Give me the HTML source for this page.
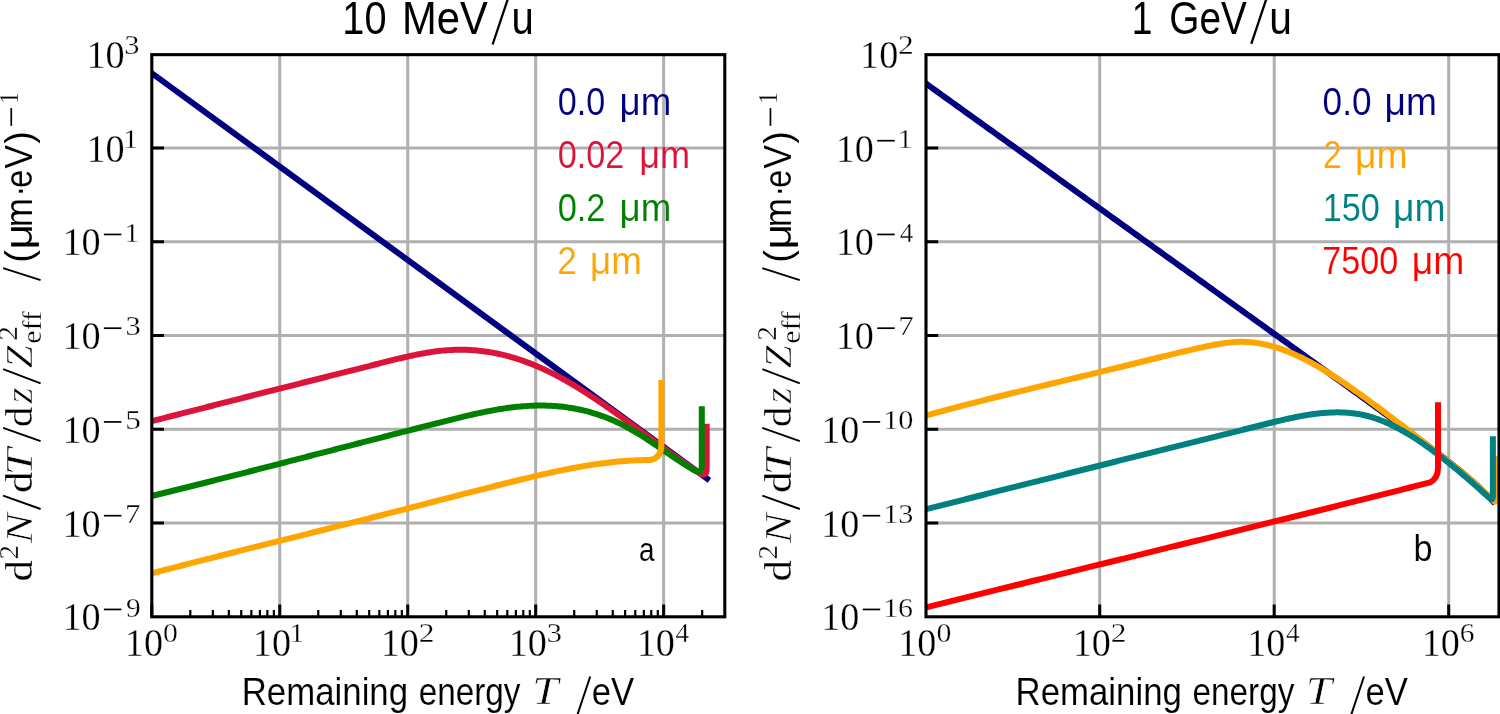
<!DOCTYPE html>
<html><head><meta charset="utf-8"><style>
html,body{margin:0;padding:0;background:#fff;width:1500px;height:714px;overflow:hidden}
svg{display:block;will-change:transform}
.sf{font-family:"Liberation Serif",serif;fill:#000;stroke:#fff;stroke-width:0.3px}
.si{font-family:"Liberation Serif",serif;font-style:italic;fill:#000;stroke:#fff;stroke-width:0.6px}
.ss{font-family:"Liberation Sans",sans-serif;fill:#000;stroke:#fff;stroke-width:0.1px}
.st{font-family:"Liberation Sans",sans-serif;fill:#000}
</style></head><body>
<svg width="1500" height="714" viewBox="0 0 1500 714">
<defs>
<clipPath id="cl"><rect x="151.8" y="54.65" width="573.00" height="562.15"/></clipPath>
<clipPath id="cr"><rect x="926.0" y="54.65" width="573.00" height="562.15"/></clipPath>
</defs>
<path d="M279.75,54.65 V616.8 M407.72,54.65 V616.8 M535.69,54.65 V616.8 M663.66,54.65 V616.8 M151.8,148.00 H724.8 M151.8,241.75 H724.8 M151.8,335.50 H724.8 M151.8,429.25 H724.8 M151.8,523.00 H724.8 M1099.70,54.65 V616.8 M1274.20,54.65 V616.8 M1448.70,54.65 V616.8 M926.0,148.00 H1499.0 M926.0,241.75 H1499.0 M926.0,335.50 H1499.0 M926.0,429.25 H1499.0 M926.0,523.00 H1499.0" stroke="#b0b0b0" stroke-width="3.0" fill="none"/>
<path d="M151.78,616.8 V604.5999999999999 M279.75,616.8 V604.5999999999999 M407.72,616.8 V604.5999999999999 M535.69,616.8 V604.5999999999999 M663.66,616.8 V604.5999999999999 M151.8,148.00 H164.0 M926.0,148.00 H938.2 M151.8,241.75 H164.0 M926.0,241.75 H938.2 M151.8,335.50 H164.0 M926.0,335.50 H938.2 M151.8,429.25 H164.0 M926.0,429.25 H938.2 M151.8,523.00 H164.0 M926.0,523.00 H938.2 M1099.70,616.8 V604.5999999999999 M1274.20,616.8 V604.5999999999999 M1448.70,616.8 V604.5999999999999" stroke="#000" stroke-width="3.0" fill="none"/>
<path d="M190.30,616.8 V610.0 M212.84,616.8 V610.0 M228.83,616.8 V610.0 M241.23,616.8 V610.0 M251.36,616.8 V610.0 M259.93,616.8 V610.0 M267.35,616.8 V610.0 M273.89,616.8 V610.0 M318.27,616.8 V610.0 M340.81,616.8 V610.0 M356.80,616.8 V610.0 M369.20,616.8 V610.0 M379.33,616.8 V610.0 M387.90,616.8 V610.0 M395.32,616.8 V610.0 M401.86,616.8 V610.0 M446.24,616.8 V610.0 M468.78,616.8 V610.0 M484.77,616.8 V610.0 M497.17,616.8 V610.0 M507.30,616.8 V610.0 M515.87,616.8 V610.0 M523.29,616.8 V610.0 M529.83,616.8 V610.0 M574.21,616.8 V610.0 M596.75,616.8 V610.0 M612.74,616.8 V610.0 M625.14,616.8 V610.0 M635.27,616.8 V610.0 M643.84,616.8 V610.0 M651.26,616.8 V610.0 M657.80,616.8 V610.0 M702.18,616.8 V610.0" stroke="#000" stroke-width="2.2" fill="none"/>
<g clip-path="url(#cl)">
<path d="M148.8,71.01 L709.5,480.32" fill="none" stroke="#000080" stroke-width="6.0" stroke-linejoin="round" stroke-linecap="butt"/>
<path d="M148.80,421.84 L150.81,421.33 L152.83,420.83 L154.84,420.32 L156.85,419.82 L158.86,419.31 L160.88,418.80 L162.89,418.30 L164.90,417.79 L166.92,417.28 L168.93,416.77 L170.94,416.26 L172.95,415.75 L174.97,415.24 L176.98,414.73 L178.99,414.22 L181.01,413.71 L183.02,413.19 L185.03,412.68 L187.04,412.17 L189.06,411.66 L191.07,411.14 L193.08,410.63 L195.09,410.12 L197.11,409.60 L199.12,409.09 L201.13,408.57 L203.15,408.06 L205.16,407.54 L207.17,407.03 L209.18,406.51 L211.20,406.00 L213.21,405.49 L215.22,404.97 L217.24,404.46 L219.25,403.94 L221.26,403.43 L223.27,402.91 L225.29,402.40 L227.30,401.88 L229.31,401.37 L231.33,400.85 L233.34,400.34 L235.35,399.83 L237.36,399.31 L239.38,398.80 L241.39,398.28 L243.40,397.77 L245.42,397.26 L247.43,396.75 L249.44,396.23 L251.45,395.72 L253.47,395.21 L255.48,394.70 L257.49,394.19 L259.51,393.68 L261.52,393.17 L263.53,392.66 L265.54,392.15 L267.56,391.64 L269.57,391.13 L271.58,390.63 L273.59,390.12 L275.61,389.61 L277.62,389.10 L279.63,388.60 L281.65,388.09 L283.66,387.58 L285.67,387.08 L287.68,386.57 L289.70,386.06 L291.71,385.56 L293.72,385.05 L295.74,384.55 L297.75,384.04 L299.76,383.54 L301.77,383.03 L303.79,382.53 L305.80,382.02 L307.81,381.52 L309.83,381.01 L311.84,380.51 L313.85,380.00 L315.86,379.50 L317.88,378.99 L319.89,378.49 L321.90,377.98 L323.92,377.47 L325.93,376.97 L327.94,376.46 L329.95,375.96 L331.97,375.45 L333.98,374.95 L335.99,374.44 L338.01,373.93 L340.02,373.43 L342.03,372.92 L344.04,372.41 L346.06,371.90 L348.07,371.40 L350.08,370.89 L352.09,370.38 L354.11,369.87 L356.12,369.36 L358.13,368.85 L360.15,368.34 L362.16,367.83 L364.17,367.32 L366.18,366.81 L368.20,366.30 L370.21,365.79 L372.22,365.28 L374.24,364.76 L376.25,364.25 L378.26,363.74 L380.27,363.22 L382.29,362.71 L384.30,362.20 L386.31,361.69 L388.33,361.18 L390.34,360.67 L392.35,360.17 L394.36,359.68 L396.38,359.18 L398.39,358.70 L400.40,358.22 L402.42,357.74 L404.43,357.28 L406.44,356.82 L408.45,356.37 L410.47,355.93 L412.48,355.50 L414.49,355.08 L416.51,354.67 L418.52,354.27 L420.53,353.88 L422.54,353.51 L424.56,353.15 L426.57,352.81 L428.58,352.48 L430.59,352.16 L432.61,351.86 L434.62,351.58 L436.63,351.32 L438.65,351.07 L440.66,350.84 L442.67,350.63 L444.68,350.44 L446.70,350.27 L448.71,350.12 L450.72,349.99 L452.74,349.89 L454.75,349.81 L456.76,349.75 L458.77,349.71 L460.79,349.70 L462.80,349.71 L464.81,349.75 L466.83,349.81 L468.84,349.90 L470.85,350.00 L472.86,350.14 L474.88,350.29 L476.89,350.47 L478.90,350.67 L480.92,350.90 L482.93,351.15 L484.94,351.42 L486.95,351.71 L488.97,352.03 L490.98,352.37 L492.99,352.74 L495.01,353.12 L497.02,353.53 L499.03,353.96 L501.04,354.42 L503.06,354.90 L505.07,355.39 L507.08,355.92 L509.09,356.46 L511.11,357.03 L513.12,357.61 L515.13,358.22 L517.15,358.86 L519.16,359.51 L521.17,360.19 L523.18,360.88 L525.20,361.60 L527.21,362.34 L529.22,363.10 L531.24,363.89 L533.25,364.69 L535.26,365.52 L537.27,366.36 L539.29,367.23 L541.30,368.12 L543.31,369.03 L545.33,369.96 L547.34,370.91 L549.35,371.89 L551.36,372.88 L553.38,373.89 L555.39,374.92 L557.40,375.98 L559.42,377.05 L561.43,378.14 L563.44,379.25 L565.45,380.37 L567.47,381.52 L569.48,382.68 L571.49,383.86 L573.51,385.05 L575.52,386.26 L577.53,387.48 L579.54,388.72 L581.56,389.98 L583.57,391.24 L585.58,392.52 L587.59,393.82 L589.61,395.12 L591.62,396.44 L593.63,397.77 L595.65,399.11 L597.66,400.46 L599.67,401.83 L601.68,403.20 L603.70,404.58 L605.71,405.97 L607.72,407.37 L609.74,408.78 L611.75,410.20 L613.76,411.62 L615.77,413.05 L617.79,414.49 L619.80,415.93 L621.81,417.38 L623.83,418.83 L625.84,420.29 L627.85,421.75 L629.86,423.22 L631.88,424.69 L633.89,426.16 L635.90,427.64 L637.92,429.12 L639.93,430.60 L641.94,432.08 L643.95,433.56 L645.97,435.04 L647.98,436.52 L649.99,438.01 L652.01,439.49 L654.02,440.97 L656.03,442.44 L658.04,443.92 L660.06,445.39 L662.07,446.86 L664.08,448.33 L666.09,449.79 L668.11,451.25 L670.12,452.70 L672.13,454.15 L674.15,455.59 L676.16,457.03 L678.17,458.46 L680.18,459.88 L682.20,461.30 L684.21,462.70 L686.22,464.10 L688.24,465.49 L690.25,466.87 L692.26,468.25 L694.27,469.61 L696.29,470.96 L698.30,472.30 Q705.50,477.80 706.70,470.50 L706.70,423.70" fill="none" stroke="#DC143C" stroke-width="6.0" stroke-linejoin="round" stroke-linecap="butt"/>
<path d="M148.80,496.71 L150.81,496.21 L152.82,495.72 L154.84,495.23 L156.85,494.74 L158.86,494.24 L160.87,493.75 L162.88,493.26 L164.89,492.76 L166.91,492.27 L168.92,491.77 L170.93,491.27 L172.94,490.77 L174.95,490.28 L176.97,489.78 L178.98,489.28 L180.99,488.78 L183.00,488.28 L185.01,487.78 L187.02,487.28 L189.04,486.77 L191.05,486.27 L193.06,485.77 L195.07,485.27 L197.08,484.76 L199.10,484.26 L201.11,483.75 L203.12,483.25 L205.13,482.74 L207.14,482.24 L209.15,481.73 L211.17,481.22 L213.18,480.72 L215.19,480.21 L217.20,479.70 L219.21,479.19 L221.23,478.68 L223.24,478.17 L225.25,477.66 L227.26,477.15 L229.27,476.64 L231.28,476.13 L233.30,475.62 L235.31,475.11 L237.32,474.60 L239.33,474.08 L241.34,473.57 L243.35,473.06 L245.37,472.55 L247.38,472.03 L249.39,471.52 L251.40,471.00 L253.41,470.49 L255.43,469.97 L257.44,469.46 L259.45,468.94 L261.46,468.43 L263.47,467.91 L265.48,467.40 L267.50,466.88 L269.51,466.36 L271.52,465.85 L273.53,465.33 L275.54,464.81 L277.56,464.30 L279.57,463.78 L281.58,463.26 L283.59,462.74 L285.60,462.23 L287.61,461.71 L289.63,461.19 L291.64,460.67 L293.65,460.15 L295.66,459.63 L297.67,459.11 L299.69,458.59 L301.70,458.07 L303.71,457.56 L305.72,457.04 L307.73,456.52 L309.74,456.00 L311.76,455.48 L313.77,454.96 L315.78,454.44 L317.79,453.92 L319.80,453.40 L321.82,452.88 L323.83,452.36 L325.84,451.84 L327.85,451.32 L329.86,450.80 L331.87,450.28 L333.89,449.76 L335.90,449.24 L337.91,448.71 L339.92,448.19 L341.93,447.67 L343.95,447.15 L345.96,446.63 L347.97,446.11 L349.98,445.59 L351.99,445.07 L354.00,444.55 L356.02,444.03 L358.03,443.51 L360.04,442.99 L362.05,442.47 L364.06,441.95 L366.08,441.44 L368.09,440.92 L370.10,440.40 L372.11,439.88 L374.12,439.36 L376.13,438.84 L378.15,438.32 L380.16,437.80 L382.17,437.28 L384.18,436.76 L386.19,436.25 L388.21,435.73 L390.22,435.21 L392.23,434.69 L394.24,434.18 L396.25,433.66 L398.26,433.14 L400.28,432.62 L402.29,432.11 L404.30,431.59 L406.31,431.08 L408.32,430.56 L410.34,430.04 L412.35,429.53 L414.36,429.01 L416.37,428.50 L418.38,427.98 L420.39,427.47 L422.41,426.96 L424.42,426.44 L426.43,425.93 L428.44,425.42 L430.45,424.90 L432.46,424.39 L434.48,423.88 L436.49,423.37 L438.50,422.86 L440.51,422.35 L442.52,421.83 L444.54,421.33 L446.55,420.82 L448.56,420.31 L450.57,419.81 L452.58,419.30 L454.59,418.80 L456.61,418.31 L458.62,417.81 L460.63,417.33 L462.64,416.84 L464.65,416.36 L466.67,415.89 L468.68,415.42 L470.69,414.96 L472.70,414.50 L474.71,414.05 L476.72,413.61 L478.74,413.17 L480.75,412.74 L482.76,412.32 L484.77,411.91 L486.78,411.51 L488.80,411.12 L490.81,410.74 L492.82,410.37 L494.83,410.01 L496.84,409.65 L498.85,409.32 L500.87,408.99 L502.88,408.67 L504.89,408.37 L506.90,408.08 L508.91,407.81 L510.93,407.55 L512.94,407.30 L514.95,407.06 L516.96,406.85 L518.97,406.64 L520.98,406.46 L523.00,406.28 L525.01,406.13 L527.02,405.99 L529.03,405.87 L531.04,405.77 L533.06,405.68 L535.07,405.62 L537.08,405.57 L539.09,405.54 L541.10,405.53 L543.11,405.54 L545.13,405.58 L547.14,405.63 L549.15,405.70 L551.16,405.80 L553.17,405.91 L555.19,406.05 L557.20,406.21 L559.21,406.40 L561.22,406.60 L563.23,406.83 L565.24,407.08 L567.26,407.36 L569.27,407.66 L571.28,407.98 L573.29,408.32 L575.30,408.69 L577.32,409.09 L579.33,409.51 L581.34,409.95 L583.35,410.42 L585.36,410.91 L587.37,411.43 L589.39,411.98 L591.40,412.55 L593.41,413.14 L595.42,413.77 L597.43,414.42 L599.45,415.10 L601.46,415.80 L603.47,416.53 L605.48,417.29 L607.49,418.08 L609.50,418.89 L611.52,419.74 L613.53,420.61 L615.54,421.51 L617.55,422.44 L619.56,423.40 L621.57,424.39 L623.59,425.41 L625.60,426.46 L627.61,427.53 L629.62,428.64 L631.63,429.77 L633.65,430.92 L635.66,432.11 L637.67,433.31 L639.68,434.54 L641.69,435.79 L643.70,437.05 L645.72,438.34 L647.73,439.64 L649.74,440.96 L651.75,442.29 L653.76,443.63 L655.78,444.98 L657.79,446.34 L659.80,447.71 L661.81,449.08 L663.82,450.45 L665.83,451.83 L667.85,453.20 L669.86,454.58 L671.87,455.94 L673.88,457.30 L675.89,458.66 L677.91,460.00 L679.92,461.33 L681.93,462.64 L683.94,463.94 L685.95,465.22 L687.96,466.48 L689.98,467.73 L691.99,468.94 L694.00,470.13 Q701.20,474.80 701.80,466.50 L701.80,406.20" fill="none" stroke="#008000" stroke-width="6.0" stroke-linejoin="round" stroke-linecap="butt"/>
<path d="M148.80,574.09 L150.81,573.57 L152.83,573.04 L154.84,572.52 L156.85,572.00 L158.86,571.48 L160.88,570.96 L162.89,570.43 L164.90,569.91 L166.92,569.39 L168.93,568.87 L170.94,568.36 L172.95,567.84 L174.97,567.32 L176.98,566.80 L178.99,566.29 L181.01,565.77 L183.02,565.25 L185.03,564.74 L187.04,564.22 L189.06,563.71 L191.07,563.19 L193.08,562.68 L195.10,562.17 L197.11,561.65 L199.12,561.14 L201.13,560.63 L203.15,560.12 L205.16,559.60 L207.17,559.09 L209.19,558.58 L211.20,558.07 L213.21,557.56 L215.22,557.05 L217.24,556.54 L219.25,556.03 L221.26,555.52 L223.28,555.02 L225.29,554.51 L227.30,554.00 L229.31,553.49 L231.33,552.98 L233.34,552.48 L235.35,551.97 L237.37,551.46 L239.38,550.95 L241.39,550.45 L243.40,549.94 L245.42,549.44 L247.43,548.93 L249.44,548.42 L251.46,547.92 L253.47,547.41 L255.48,546.91 L257.49,546.40 L259.51,545.90 L261.52,545.39 L263.53,544.89 L265.55,544.38 L267.56,543.88 L269.57,543.37 L271.58,542.87 L273.60,542.36 L275.61,541.86 L277.62,541.35 L279.64,540.85 L281.65,540.35 L283.66,539.84 L285.67,539.34 L287.69,538.83 L289.70,538.33 L291.71,537.82 L293.73,537.32 L295.74,536.82 L297.75,536.31 L299.76,535.81 L301.78,535.30 L303.79,534.80 L305.80,534.29 L307.82,533.79 L309.83,533.28 L311.84,532.78 L313.85,532.27 L315.87,531.77 L317.88,531.26 L319.89,530.76 L321.91,530.25 L323.92,529.74 L325.93,529.24 L327.94,528.73 L329.96,528.23 L331.97,527.72 L333.98,527.21 L336.00,526.71 L338.01,526.20 L340.02,525.69 L342.03,525.18 L344.05,524.67 L346.06,524.17 L348.07,523.66 L350.09,523.15 L352.10,522.64 L354.11,522.13 L356.12,521.62 L358.14,521.11 L360.15,520.60 L362.16,520.09 L364.18,519.58 L366.19,519.07 L368.20,518.56 L370.21,518.05 L372.23,517.53 L374.24,517.02 L376.25,516.51 L378.27,515.99 L380.28,515.48 L382.29,514.97 L384.30,514.45 L386.32,513.94 L388.33,513.42 L390.34,512.90 L392.36,512.39 L394.37,511.87 L396.38,511.35 L398.39,510.84 L400.41,510.32 L402.42,509.80 L404.43,509.28 L406.44,508.76 L408.46,508.24 L410.47,507.72 L412.48,507.20 L414.50,506.68 L416.51,506.16 L418.52,505.64 L420.53,505.12 L422.55,504.60 L424.56,504.08 L426.57,503.56 L428.59,503.04 L430.60,502.52 L432.61,502.00 L434.62,501.48 L436.64,500.96 L438.65,500.44 L440.66,499.92 L442.68,499.40 L444.69,498.88 L446.70,498.37 L448.71,497.85 L450.73,497.33 L452.74,496.81 L454.75,496.29 L456.77,495.77 L458.78,495.26 L460.79,494.74 L462.80,494.22 L464.82,493.71 L466.83,493.19 L468.84,492.67 L470.86,492.16 L472.87,491.64 L474.88,491.13 L476.89,490.62 L478.91,490.10 L480.92,489.59 L482.93,489.08 L484.95,488.57 L486.96,488.06 L488.97,487.55 L490.98,487.04 L493.00,486.53 L495.01,486.03 L497.02,485.52 L499.04,485.01 L501.05,484.51 L503.06,484.01 L505.07,483.50 L507.09,483.00 L509.10,482.50 L511.11,482.00 L513.13,481.50 L515.14,481.00 L517.15,480.51 L519.16,480.01 L521.18,479.52 L523.19,479.03 L525.20,478.54 L527.22,478.06 L529.23,477.57 L531.24,477.09 L533.25,476.61 L535.27,476.14 L537.28,475.67 L539.29,475.20 L541.31,474.74 L543.32,474.28 L545.33,473.82 L547.34,473.37 L549.36,472.92 L551.37,472.48 L553.38,472.04 L555.40,471.61 L557.41,471.18 L559.42,470.76 L561.43,470.34 L563.45,469.93 L565.46,469.52 L567.47,469.12 L569.49,468.73 L571.50,468.34 L573.51,467.96 L575.52,467.58 L577.54,467.22 L579.55,466.86 L581.56,466.50 L583.58,466.16 L585.59,465.82 L587.60,465.49 L589.61,465.17 L591.63,464.85 L593.64,464.55 L595.65,464.25 L597.67,463.96 L599.68,463.68 L601.69,463.41 L603.70,463.15 L605.72,462.90 L607.73,462.65 L609.74,462.42 L611.76,462.20 L613.77,461.98 L615.78,461.78 L617.79,461.59 L619.81,461.41 L621.82,461.24 L623.83,461.08 L625.85,460.93 L627.86,460.79 L629.87,460.66 L631.88,460.55 L633.90,460.45 L635.91,460.36 L637.92,460.28 L639.94,460.21 L641.95,460.16 L643.96,460.12 L645.97,460.09 L647.99,460.08 L650.00,460.08 Q661.40,458.20 661.40,445.00 L661.40,380.00" fill="none" stroke="#FFA500" stroke-width="6.0" stroke-linejoin="round" stroke-linecap="butt"/>
</g>
<g clip-path="url(#cr)">
<path d="M923.00,81.44 L926.60,84.03 L930.19,86.61 L933.79,89.20 L937.39,91.78 L940.99,94.37 L944.58,96.95 L948.18,99.54 L951.78,102.12 L955.38,104.71 L958.97,107.29 L962.57,109.88 L966.17,112.46 L969.77,115.05 L973.36,117.63 L976.96,120.22 L980.56,122.80 L984.16,125.39 L987.75,127.97 L991.35,130.56 L994.95,133.14 L998.55,135.73 L1002.14,138.31 L1005.74,140.89 L1009.34,143.48 L1012.94,146.06 L1016.53,148.65 L1020.13,151.23 L1023.73,153.82 L1027.33,156.40 L1030.92,158.99 L1034.52,161.57 L1038.12,164.16 L1041.72,166.74 L1045.31,169.33 L1048.91,171.91 L1052.51,174.50 L1056.11,177.08 L1059.70,179.67 L1063.30,182.25 L1066.90,184.84 L1070.50,187.42 L1074.09,190.01 L1077.69,192.59 L1081.29,195.18 L1084.89,197.76 L1088.48,200.35 L1092.08,202.93 L1095.68,205.51 L1099.28,208.10 L1102.87,210.68 L1106.47,213.27 L1110.07,215.85 L1113.67,218.44 L1117.26,221.02 L1120.86,223.61 L1124.46,226.19 L1128.06,228.78 L1131.65,231.36 L1135.25,233.95 L1138.85,236.53 L1142.45,239.12 L1146.04,241.70 L1149.64,244.29 L1153.24,246.87 L1156.84,249.46 L1160.43,252.04 L1164.03,254.63 L1167.63,257.21 L1171.23,259.80 L1174.82,262.38 L1178.42,264.97 L1182.02,267.55 L1185.62,270.14 L1189.21,272.72 L1192.81,275.31 L1196.41,277.89 L1200.01,280.48 L1203.60,283.06 L1207.20,285.65 L1210.80,288.23 L1214.40,290.82 L1217.99,293.40 L1221.59,295.99 L1225.19,298.57 L1228.79,301.16 L1232.38,303.74 L1235.98,306.33 L1239.58,308.92 L1243.18,311.50 L1246.77,314.09 L1250.37,316.67 L1253.97,319.26 L1257.57,321.84 L1261.16,324.43 L1264.76,327.02 L1268.36,329.60 L1271.96,332.19 L1275.55,334.78 L1279.15,337.36 L1282.75,339.95 L1286.35,342.54 L1289.94,345.13 L1293.54,347.72 L1297.14,350.30 L1300.74,352.89 L1304.33,355.48 L1307.93,358.07 L1311.53,360.66 L1315.13,363.25 L1318.72,365.84 L1322.32,368.44 L1325.92,371.03 L1329.52,373.62 L1333.11,376.22 L1336.71,378.81 L1340.31,381.41 L1343.91,384.01 L1347.50,386.61 L1351.10,389.21 L1354.70,391.81 L1358.30,394.41 L1361.89,397.02 L1365.49,399.63 L1369.09,402.24 L1372.69,404.85 L1376.28,407.46 L1379.88,410.08 L1383.48,412.70 L1387.08,415.33 L1390.67,417.96 L1394.27,420.60 L1397.87,423.24 L1401.47,425.88 L1405.06,428.53 L1408.66,431.19 L1412.26,433.86 L1415.86,436.54 L1419.45,439.22 L1423.05,441.92 L1426.65,444.63 L1430.25,447.35 L1433.84,450.09 L1437.44,452.85 L1441.04,455.62 L1444.64,458.42 L1448.23,461.24 L1451.83,464.09 L1455.43,466.98 L1459.03,469.90 L1462.62,472.86 L1466.22,475.88 L1469.82,478.95 L1473.42,482.09 L1477.01,485.32 L1480.61,488.65 L1484.21,492.10 L1487.81,495.71 L1491.40,499.52 L1495.00,503.57" fill="none" stroke="#000080" stroke-width="6.0" stroke-linejoin="round" stroke-linecap="butt"/>
<path d="M922.20,416.56 L924.21,416.00 L926.23,415.44 L928.24,414.88 L930.25,414.32 L932.27,413.77 L934.28,413.22 L936.29,412.67 L938.31,412.12 L940.32,411.58 L942.33,411.04 L944.35,410.50 L946.36,409.96 L948.37,409.42 L950.39,408.88 L952.40,408.35 L954.41,407.82 L956.43,407.29 L958.44,406.76 L960.46,406.23 L962.47,405.71 L964.48,405.19 L966.50,404.67 L968.51,404.15 L970.52,403.63 L972.54,403.11 L974.55,402.59 L976.56,402.08 L978.58,401.57 L980.59,401.06 L982.60,400.55 L984.62,400.04 L986.63,399.53 L988.64,399.02 L990.66,398.52 L992.67,398.02 L994.68,397.51 L996.70,397.01 L998.71,396.51 L1000.72,396.01 L1002.74,395.51 L1004.75,395.02 L1006.76,394.52 L1008.78,394.02 L1010.79,393.53 L1012.80,393.03 L1014.82,392.54 L1016.83,392.05 L1018.84,391.56 L1020.86,391.07 L1022.87,390.58 L1024.88,390.09 L1026.90,389.60 L1028.91,389.11 L1030.93,388.62 L1032.94,388.14 L1034.95,387.65 L1036.97,387.16 L1038.98,386.68 L1040.99,386.19 L1043.01,385.71 L1045.02,385.22 L1047.03,384.74 L1049.05,384.25 L1051.06,383.77 L1053.07,383.29 L1055.09,382.80 L1057.10,382.32 L1059.11,381.84 L1061.13,381.35 L1063.14,380.87 L1065.15,380.39 L1067.17,379.90 L1069.18,379.42 L1071.19,378.94 L1073.21,378.45 L1075.22,377.97 L1077.23,377.48 L1079.25,377.00 L1081.26,376.52 L1083.27,376.03 L1085.29,375.55 L1087.30,375.06 L1089.31,374.58 L1091.33,374.09 L1093.34,373.60 L1095.35,373.12 L1097.37,372.63 L1099.38,372.14 L1101.40,371.65 L1103.41,371.16 L1105.42,370.67 L1107.44,370.18 L1109.45,369.69 L1111.46,369.20 L1113.48,368.71 L1115.49,368.21 L1117.50,367.72 L1119.52,367.22 L1121.53,366.73 L1123.54,366.23 L1125.56,365.73 L1127.57,365.23 L1129.58,364.73 L1131.60,364.24 L1133.61,363.74 L1135.62,363.24 L1137.64,362.74 L1139.65,362.24 L1141.66,361.74 L1143.68,361.24 L1145.69,360.74 L1147.70,360.24 L1149.72,359.74 L1151.73,359.24 L1153.74,358.75 L1155.76,358.25 L1157.77,357.76 L1159.78,357.26 L1161.80,356.77 L1163.81,356.28 L1165.82,355.79 L1167.84,355.30 L1169.85,354.81 L1171.87,354.33 L1173.88,353.84 L1175.89,353.36 L1177.91,352.88 L1179.92,352.40 L1181.93,351.93 L1183.95,351.46 L1185.96,350.99 L1187.97,350.52 L1189.99,350.05 L1192.00,349.59 L1194.01,349.13 L1196.03,348.67 L1198.04,348.22 L1200.05,347.77 L1202.07,347.32 L1204.08,346.88 L1206.09,346.45 L1208.11,346.02 L1210.12,345.61 L1212.13,345.20 L1214.15,344.81 L1216.16,344.44 L1218.17,344.08 L1220.19,343.75 L1222.20,343.43 L1224.21,343.14 L1226.23,342.87 L1228.24,342.63 L1230.25,342.41 L1232.27,342.23 L1234.28,342.08 L1236.29,341.96 L1238.31,341.87 L1240.32,341.83 L1242.33,341.82 L1244.35,341.85 L1246.36,341.93 L1248.38,342.04 L1250.39,342.20 L1252.40,342.39 L1254.42,342.62 L1256.43,342.89 L1258.44,343.20 L1260.46,343.55 L1262.47,343.93 L1264.48,344.35 L1266.50,344.80 L1268.51,345.29 L1270.52,345.81 L1272.54,346.36 L1274.55,346.95 L1276.56,347.57 L1278.58,348.22 L1280.59,348.91 L1282.60,349.62 L1284.62,350.36 L1286.63,351.14 L1288.64,351.94 L1290.66,352.77 L1292.67,353.62 L1294.68,354.51 L1296.70,355.42 L1298.71,356.36 L1300.72,357.32 L1302.74,358.31 L1304.75,359.32 L1306.76,360.35 L1308.78,361.41 L1310.79,362.49 L1312.80,363.59 L1314.82,364.71 L1316.83,365.85 L1318.85,367.02 L1320.86,368.20 L1322.87,369.40 L1324.89,370.62 L1326.90,371.85 L1328.91,373.11 L1330.93,374.38 L1332.94,375.66 L1334.95,376.97 L1336.97,378.28 L1338.98,379.61 L1340.99,380.96 L1343.01,382.31 L1345.02,383.68 L1347.03,385.06 L1349.05,386.45 L1351.06,387.85 L1353.07,389.27 L1355.09,390.69 L1357.10,392.12 L1359.11,393.56 L1361.13,395.00 L1363.14,396.46 L1365.15,397.92 L1367.17,399.38 L1369.18,400.85 L1371.19,402.33 L1373.21,403.81 L1375.22,405.29 L1377.23,406.78 L1379.25,408.27 L1381.26,409.77 L1383.27,411.27 L1385.29,412.77 L1387.30,414.28 L1389.32,415.79 L1391.33,417.31 L1393.34,418.83 L1395.36,420.35 L1397.37,421.88 L1399.38,423.41 L1401.40,424.94 L1403.41,426.48 L1405.42,428.02 L1407.44,429.56 L1409.45,431.10 L1411.46,432.65 L1413.48,434.20 L1415.49,435.76 L1417.50,437.32 L1419.52,438.87 L1421.53,440.44 L1423.54,442.00 L1425.56,443.57 L1427.57,445.14 L1429.58,446.71 L1431.60,448.28 L1433.61,449.86 L1435.62,451.43 L1437.64,453.01 L1439.65,454.59 L1441.66,456.18 L1443.68,457.76 L1445.69,459.35 L1447.70,460.94 L1449.72,462.53 L1451.73,464.13 L1453.74,465.74 L1455.76,467.35 L1457.77,468.97 L1459.79,470.61 L1461.80,472.25 L1463.81,473.91 L1465.83,475.59 L1467.84,477.28 L1469.85,478.99 L1471.87,480.72 L1473.88,482.47 L1475.89,484.24 L1477.91,486.03 L1479.92,487.85 L1481.93,489.70 L1483.95,491.57 L1485.96,493.47 L1487.97,495.40 L1489.99,497.36 L1492.00,499.36 Q1496.60,505.00 1496.60,497.00 L1496.60,456.30" fill="none" stroke="#FFA500" stroke-width="6.0" stroke-linejoin="round" stroke-linecap="butt"/>
<path d="M922.20,510.22 L924.21,509.71 L926.22,509.20 L928.23,508.69 L930.24,508.18 L932.25,507.67 L934.26,507.16 L936.27,506.65 L938.28,506.15 L940.29,505.64 L942.30,505.13 L944.31,504.62 L946.32,504.11 L948.33,503.60 L950.34,503.09 L952.35,502.59 L954.36,502.08 L956.37,501.57 L958.38,501.06 L960.39,500.55 L962.40,500.05 L964.41,499.54 L966.42,499.03 L968.43,498.52 L970.44,498.02 L972.45,497.51 L974.46,497.00 L976.47,496.50 L978.48,495.99 L980.49,495.48 L982.50,494.98 L984.51,494.47 L986.52,493.96 L988.53,493.46 L990.54,492.95 L992.55,492.45 L994.56,491.94 L996.57,491.44 L998.58,490.93 L1000.59,490.42 L1002.60,489.92 L1004.61,489.41 L1006.62,488.91 L1008.63,488.40 L1010.64,487.90 L1012.65,487.39 L1014.66,486.89 L1016.67,486.38 L1018.68,485.88 L1020.69,485.37 L1022.70,484.87 L1024.71,484.36 L1026.72,483.86 L1028.73,483.35 L1030.74,482.85 L1032.75,482.35 L1034.76,481.84 L1036.77,481.34 L1038.78,480.83 L1040.79,480.33 L1042.80,479.83 L1044.81,479.32 L1046.82,478.82 L1048.83,478.31 L1050.84,477.81 L1052.85,477.31 L1054.86,476.80 L1056.87,476.30 L1058.88,475.80 L1060.89,475.29 L1062.90,474.79 L1064.90,474.29 L1066.91,473.78 L1068.92,473.28 L1070.93,472.78 L1072.94,472.27 L1074.95,471.77 L1076.96,471.27 L1078.97,470.76 L1080.98,470.26 L1082.99,469.76 L1085.00,469.26 L1087.01,468.75 L1089.02,468.25 L1091.03,467.75 L1093.04,467.24 L1095.05,466.74 L1097.06,466.24 L1099.07,465.74 L1101.08,465.23 L1103.09,464.73 L1105.10,464.23 L1107.11,463.73 L1109.12,463.22 L1111.13,462.72 L1113.14,462.22 L1115.15,461.72 L1117.16,461.21 L1119.17,460.71 L1121.18,460.21 L1123.19,459.71 L1125.20,459.20 L1127.21,458.70 L1129.22,458.20 L1131.23,457.70 L1133.24,457.19 L1135.25,456.69 L1137.26,456.19 L1139.27,455.69 L1141.28,455.18 L1143.29,454.68 L1145.30,454.18 L1147.31,453.68 L1149.32,453.18 L1151.33,452.67 L1153.34,452.17 L1155.35,451.67 L1157.36,451.17 L1159.37,450.66 L1161.38,450.16 L1163.39,449.66 L1165.40,449.16 L1167.41,448.65 L1169.42,448.15 L1171.43,447.65 L1173.44,447.15 L1175.45,446.64 L1177.46,446.14 L1179.47,445.64 L1181.48,445.14 L1183.49,444.63 L1185.50,444.13 L1187.51,443.63 L1189.52,443.12 L1191.53,442.62 L1193.54,442.12 L1195.55,441.62 L1197.56,441.11 L1199.57,440.61 L1201.58,440.11 L1203.59,439.60 L1205.60,439.10 L1207.61,438.60 L1209.62,438.09 L1211.63,437.59 L1213.64,437.09 L1215.65,436.58 L1217.66,436.08 L1219.67,435.58 L1221.68,435.07 L1223.69,434.57 L1225.70,434.07 L1227.71,433.56 L1229.72,433.06 L1231.73,432.56 L1233.74,432.05 L1235.75,431.55 L1237.76,431.04 L1239.77,430.54 L1241.78,430.04 L1243.79,429.53 L1245.80,429.03 L1247.81,428.52 L1249.82,428.02 L1251.83,427.52 L1253.84,427.01 L1255.85,426.51 L1257.86,426.00 L1259.87,425.50 L1261.88,424.99 L1263.89,424.49 L1265.90,423.99 L1267.91,423.48 L1269.92,422.99 L1271.93,422.49 L1273.94,422.00 L1275.95,421.51 L1277.96,421.03 L1279.97,420.55 L1281.98,420.09 L1283.99,419.62 L1286.00,419.17 L1288.01,418.72 L1290.02,418.29 L1292.03,417.86 L1294.04,417.45 L1296.05,417.04 L1298.06,416.65 L1300.07,416.27 L1302.08,415.90 L1304.09,415.55 L1306.10,415.21 L1308.11,414.89 L1310.12,414.58 L1312.13,414.29 L1314.14,414.02 L1316.15,413.76 L1318.16,413.52 L1320.17,413.31 L1322.18,413.11 L1324.19,412.93 L1326.20,412.78 L1328.21,412.65 L1330.22,412.54 L1332.23,412.45 L1334.24,412.40 L1336.25,412.36 L1338.26,412.36 L1340.27,412.38 L1342.28,412.44 L1344.29,412.52 L1346.30,412.64 L1348.30,412.79 L1350.31,412.97 L1352.32,413.18 L1354.33,413.43 L1356.34,413.72 L1358.35,414.04 L1360.36,414.40 L1362.37,414.80 L1364.38,415.24 L1366.39,415.72 L1368.40,416.24 L1370.41,416.80 L1372.42,417.41 L1374.43,418.05 L1376.44,418.73 L1378.45,419.44 L1380.46,420.20 L1382.47,420.99 L1384.48,421.82 L1386.49,422.68 L1388.50,423.58 L1390.51,424.51 L1392.52,425.47 L1394.53,426.46 L1396.54,427.49 L1398.55,428.55 L1400.56,429.64 L1402.57,430.75 L1404.58,431.90 L1406.59,433.07 L1408.60,434.28 L1410.61,435.50 L1412.62,436.76 L1414.63,438.04 L1416.64,439.34 L1418.65,440.67 L1420.66,442.02 L1422.67,443.39 L1424.68,444.79 L1426.69,446.20 L1428.70,447.64 L1430.71,449.10 L1432.72,450.57 L1434.73,452.07 L1436.74,453.58 L1438.75,455.10 L1440.76,456.65 L1442.77,458.21 L1444.78,459.78 L1446.79,461.37 L1448.80,462.98 L1450.81,464.59 L1452.82,466.23 L1454.83,467.87 L1456.84,469.53 L1458.85,471.20 L1460.86,472.89 L1462.87,474.59 L1464.88,476.30 L1466.89,478.02 L1468.90,479.76 L1470.91,481.50 L1472.92,483.26 L1474.93,485.03 L1476.94,486.81 L1478.95,488.60 L1480.96,490.40 L1482.97,492.21 L1484.98,494.03 L1486.99,495.86 L1489.00,497.70 Q1492.90,501.80 1492.90,496.00 L1492.90,436.20" fill="none" stroke="#008080" stroke-width="6.0" stroke-linejoin="round" stroke-linecap="butt"/>
<path d="M922.20,608.46 L924.21,607.96 L926.22,607.45 L928.22,606.95 L930.23,606.45 L932.24,605.95 L934.25,605.44 L936.26,604.94 L938.26,604.44 L940.27,603.94 L942.28,603.44 L944.29,602.93 L946.29,602.43 L948.30,601.93 L950.31,601.43 L952.32,600.93 L954.33,600.43 L956.33,599.93 L958.34,599.43 L960.35,598.93 L962.36,598.43 L964.37,597.93 L966.37,597.43 L968.38,596.93 L970.39,596.43 L972.40,595.93 L974.41,595.43 L976.41,594.93 L978.42,594.44 L980.43,593.94 L982.44,593.44 L984.45,592.94 L986.45,592.44 L988.46,591.94 L990.47,591.45 L992.48,590.95 L994.48,590.45 L996.49,589.95 L998.50,589.46 L1000.51,588.96 L1002.52,588.46 L1004.52,587.96 L1006.53,587.47 L1008.54,586.97 L1010.55,586.47 L1012.56,585.98 L1014.56,585.48 L1016.57,584.98 L1018.58,584.49 L1020.59,583.99 L1022.60,583.50 L1024.60,583.00 L1026.61,582.50 L1028.62,582.01 L1030.63,581.51 L1032.63,581.02 L1034.64,580.52 L1036.65,580.03 L1038.66,579.53 L1040.67,579.04 L1042.67,578.54 L1044.68,578.05 L1046.69,577.55 L1048.70,577.06 L1050.71,576.56 L1052.71,576.07 L1054.72,575.57 L1056.73,575.08 L1058.74,574.58 L1060.75,574.09 L1062.75,573.60 L1064.76,573.10 L1066.77,572.61 L1068.78,572.11 L1070.78,571.62 L1072.79,571.12 L1074.80,570.63 L1076.81,570.14 L1078.82,569.64 L1080.82,569.15 L1082.83,568.66 L1084.84,568.16 L1086.85,567.67 L1088.86,567.17 L1090.86,566.68 L1092.87,566.19 L1094.88,565.69 L1096.89,565.20 L1098.90,564.71 L1100.90,564.21 L1102.91,563.72 L1104.92,563.23 L1106.93,562.73 L1108.94,562.24 L1110.94,561.75 L1112.95,561.25 L1114.96,560.76 L1116.97,560.27 L1118.97,559.77 L1120.98,559.28 L1122.99,558.79 L1125.00,558.30 L1127.01,557.80 L1129.01,557.31 L1131.02,556.82 L1133.03,556.32 L1135.04,555.83 L1137.05,555.34 L1139.05,554.84 L1141.06,554.35 L1143.07,553.86 L1145.08,553.36 L1147.09,552.87 L1149.09,552.38 L1151.10,551.88 L1153.11,551.39 L1155.12,550.90 L1157.12,550.41 L1159.13,549.91 L1161.14,549.42 L1163.15,548.93 L1165.16,548.43 L1167.16,547.94 L1169.17,547.45 L1171.18,546.95 L1173.19,546.46 L1175.20,545.97 L1177.20,545.47 L1179.21,544.98 L1181.22,544.49 L1183.23,543.99 L1185.24,543.50 L1187.24,543.00 L1189.25,542.51 L1191.26,542.02 L1193.27,541.52 L1195.28,541.03 L1197.28,540.53 L1199.29,540.04 L1201.30,539.55 L1203.31,539.05 L1205.31,538.56 L1207.32,538.06 L1209.33,537.57 L1211.34,537.08 L1213.35,536.58 L1215.35,536.09 L1217.36,535.59 L1219.37,535.10 L1221.38,534.60 L1223.39,534.11 L1225.39,533.61 L1227.40,533.12 L1229.41,532.62 L1231.42,532.13 L1233.43,531.63 L1235.43,531.14 L1237.44,530.64 L1239.45,530.15 L1241.46,529.65 L1243.46,529.16 L1245.47,528.66 L1247.48,528.16 L1249.49,527.67 L1251.50,527.17 L1253.50,526.68 L1255.51,526.18 L1257.52,525.68 L1259.53,525.19 L1261.54,524.69 L1263.54,524.19 L1265.55,523.70 L1267.56,523.20 L1269.57,522.70 L1271.58,522.20 L1273.58,521.71 L1275.59,521.21 L1277.60,520.71 L1279.61,520.21 L1281.62,519.72 L1283.62,519.22 L1285.63,518.72 L1287.64,518.22 L1289.65,517.72 L1291.65,517.22 L1293.66,516.73 L1295.67,516.23 L1297.68,515.73 L1299.69,515.23 L1301.69,514.73 L1303.70,514.23 L1305.71,513.73 L1307.72,513.23 L1309.73,512.73 L1311.73,512.23 L1313.74,511.73 L1315.75,511.23 L1317.76,510.73 L1319.77,510.23 L1321.77,509.73 L1323.78,509.23 L1325.79,508.73 L1327.80,508.22 L1329.80,507.72 L1331.81,507.22 L1333.82,506.72 L1335.83,506.22 L1337.84,505.71 L1339.84,505.21 L1341.85,504.71 L1343.86,504.21 L1345.87,503.70 L1347.88,503.20 L1349.88,502.70 L1351.89,502.19 L1353.90,501.69 L1355.91,501.19 L1357.92,500.68 L1359.92,500.18 L1361.93,499.67 L1363.94,499.17 L1365.95,498.66 L1367.95,498.16 L1369.96,497.65 L1371.97,497.15 L1373.98,496.64 L1375.99,496.13 L1377.99,495.63 L1380.00,495.12 L1382.01,494.61 L1384.02,494.11 L1386.03,493.60 L1388.03,493.09 L1390.04,492.59 L1392.05,492.08 L1394.06,491.57 L1396.07,491.06 L1398.07,490.55 L1400.08,490.04 L1402.09,489.53 L1404.10,489.02 L1406.11,488.52 L1408.11,488.01 L1410.12,487.50 L1412.13,486.99 L1414.14,486.47 L1416.14,485.96 L1418.15,485.45 L1420.16,484.94 L1422.17,484.43 L1424.18,483.92 L1426.18,483.41 L1428.19,482.89 L1430.20,482.38 Q1438.00,478.20 1438.00,468.00 L1438.00,402.30" fill="none" stroke="#FF0000" stroke-width="6.0" stroke-linejoin="round" stroke-linecap="butt"/>
</g>
<rect x="151.8" y="54.65" width="573.00" height="562.15" fill="none" stroke="#000" stroke-width="3.1"/>
<rect x="926.0" y="54.65" width="573.00" height="562.15" fill="none" stroke="#000" stroke-width="3.1"/>
<text transform="translate(124.82,655.70) scale(0.9699,1)" class="sf" font-size="39.4">10</text>
<text transform="translate(163.05,641.90) scale(1.0890,1)" class="sf" font-size="27.3">0</text>
<text transform="translate(252.79,655.70) scale(0.9699,1)" class="sf" font-size="39.4">10</text>
<text transform="translate(289.58,641.90) scale(1.0717,1)" class="sf" font-size="27.3">1</text>
<text transform="translate(380.76,655.70) scale(0.9699,1)" class="sf" font-size="39.4">10</text>
<text transform="translate(418.74,641.90) scale(1.1513,1)" class="sf" font-size="27.3">2</text>
<text transform="translate(508.73,655.70) scale(0.9699,1)" class="sf" font-size="39.4">10</text>
<text transform="translate(546.63,641.90) scale(1.1173,1)" class="sf" font-size="27.3">3</text>
<text transform="translate(636.70,655.70) scale(0.9699,1)" class="sf" font-size="39.4">10</text>
<text transform="translate(675.53,641.90) scale(0.9929,1)" class="sf" font-size="27.3">4</text>
<text transform="translate(898.24,655.70) scale(0.9699,1)" class="sf" font-size="39.4">10</text>
<text transform="translate(936.47,641.90) scale(1.0890,1)" class="sf" font-size="27.3">0</text>
<text transform="translate(1072.74,655.70) scale(0.9699,1)" class="sf" font-size="39.4">10</text>
<text transform="translate(1110.72,641.90) scale(1.1513,1)" class="sf" font-size="27.3">2</text>
<text transform="translate(1247.24,655.70) scale(0.9699,1)" class="sf" font-size="39.4">10</text>
<text transform="translate(1286.07,641.90) scale(0.9929,1)" class="sf" font-size="27.3">4</text>
<text transform="translate(1421.74,655.70) scale(0.9699,1)" class="sf" font-size="39.4">10</text>
<text transform="translate(1459.83,641.90) scale(1.0803,1)" class="sf" font-size="27.3">6</text>
<text transform="translate(86.44,67.85) scale(0.9699,1)" class="sf" font-size="39.4">10</text>
<text transform="translate(124.34,54.05) scale(1.1173,1)" class="sf" font-size="27.3">3</text>
<text transform="translate(86.44,161.60) scale(0.9699,1)" class="sf" font-size="39.4">10</text>
<text transform="translate(123.23,147.80) scale(1.0717,1)" class="sf" font-size="27.3">1</text>
<text transform="translate(62.44,255.35) scale(0.9699,1)" class="sf" font-size="39.4">10</text>
<rect x="103.90" y="233.60" width="17.5" height="1.7" fill="#000"/>
<text transform="translate(124.43,241.55) scale(1.0717,1)" class="sf" font-size="27.3">1</text>
<text transform="translate(62.44,349.10) scale(0.9699,1)" class="sf" font-size="39.4">10</text>
<rect x="103.90" y="327.35" width="17.5" height="1.7" fill="#000"/>
<text transform="translate(125.54,335.30) scale(1.1173,1)" class="sf" font-size="27.3">3</text>
<text transform="translate(62.44,442.85) scale(0.9699,1)" class="sf" font-size="39.4">10</text>
<rect x="103.90" y="421.10" width="17.5" height="1.7" fill="#000"/>
<text transform="translate(125.18,429.05) scale(1.1457,1)" class="sf" font-size="27.3">5</text>
<text transform="translate(62.44,536.60) scale(0.9699,1)" class="sf" font-size="39.4">10</text>
<rect x="103.90" y="514.85" width="17.5" height="1.7" fill="#000"/>
<text transform="translate(124.95,522.80) scale(1.1388,1)" class="sf" font-size="27.3">7</text>
<text transform="translate(62.44,630.35) scale(0.9699,1)" class="sf" font-size="39.4">10</text>
<rect x="103.90" y="608.60" width="17.5" height="1.7" fill="#000"/>
<text transform="translate(126.05,616.55) scale(1.0815,1)" class="sf" font-size="27.3">9</text>
<text transform="translate(860.04,67.85) scale(0.9699,1)" class="sf" font-size="39.4">10</text>
<text transform="translate(898.02,54.05) scale(1.1513,1)" class="sf" font-size="27.3">2</text>
<text transform="translate(835.74,161.60) scale(0.9699,1)" class="sf" font-size="39.4">10</text>
<rect x="877.20" y="139.85" width="17.5" height="1.7" fill="#000"/>
<text transform="translate(897.73,147.80) scale(1.0717,1)" class="sf" font-size="27.3">1</text>
<text transform="translate(835.74,255.35) scale(0.9699,1)" class="sf" font-size="39.4">10</text>
<rect x="877.20" y="233.60" width="17.5" height="1.7" fill="#000"/>
<text transform="translate(899.77,241.55) scale(0.9929,1)" class="sf" font-size="27.3">4</text>
<text transform="translate(835.74,349.10) scale(0.9699,1)" class="sf" font-size="39.4">10</text>
<rect x="877.20" y="327.35" width="17.5" height="1.7" fill="#000"/>
<text transform="translate(898.25,335.30) scale(1.1388,1)" class="sf" font-size="27.3">7</text>
<text transform="translate(821.24,442.85) scale(0.9699,1)" class="sf" font-size="39.4">10</text>
<rect x="862.70" y="421.10" width="17.5" height="1.7" fill="#000"/>
<text transform="translate(883.15,429.05) scale(1.1064,1)" class="sf" font-size="27.3">10</text>
<text transform="translate(821.24,536.60) scale(0.9699,1)" class="sf" font-size="39.4">10</text>
<rect x="862.70" y="514.85" width="17.5" height="1.7" fill="#000"/>
<text transform="translate(883.14,522.80) scale(1.1077,1)" class="sf" font-size="27.3">13</text>
<text transform="translate(821.24,630.35) scale(0.9699,1)" class="sf" font-size="39.4">10</text>
<rect x="862.70" y="608.60" width="17.5" height="1.7" fill="#000"/>
<text transform="translate(883.17,616.55) scale(1.0960,1)" class="sf" font-size="27.3">16</text>
<text transform="translate(342.37,33.70) scale(0.8541,1)" class="st" font-size="46.5">10</text>
<text transform="translate(402.08,33.70) scale(0.8975,1)" class="st" font-size="46.5">MeV</text>
<text transform="translate(511.40,33.70) scale(0.8606,1)" class="st" font-size="46.5">u</text>
<line x1="492.60" y1="44.50" x2="508.51" y2="-3.00" stroke="#000" stroke-width="2.3"/>
<text transform="translate(1131.87,33.70) scale(0.7981,1)" class="st" font-size="46.5">1</text>
<text transform="translate(1169.35,33.70) scale(0.8331,1)" class="st" font-size="46.5">GeV</text>
<text transform="translate(1269.36,33.70) scale(0.8758,1)" class="st" font-size="46.5">u</text>
<line x1="1251.30" y1="43.80" x2="1266.98" y2="-3.00" stroke="#000" stroke-width="2.3"/>
<text transform="translate(241.74,704.60) scale(0.9041,1)" class="ss" font-size="38.5">Remaining</text>
<text transform="translate(418.79,704.60) scale(0.8637,1)" class="ss" font-size="38.5">energy</text>
<text transform="translate(532.01,704.40) scale(1.2002,1)" class="si" font-size="39.4">T</text>
<line x1="577.00" y1="716.00" x2="590.23" y2="676.50" stroke="#000" stroke-width="2.0"/>
<text transform="translate(591.73,704.60) scale(0.9009,1)" class="ss" font-size="38.5">eV</text>
<text transform="translate(1015.54,704.60) scale(0.9041,1)" class="ss" font-size="38.5">Remaining</text>
<text transform="translate(1192.59,704.60) scale(0.8637,1)" class="ss" font-size="38.5">energy</text>
<text transform="translate(1305.81,704.40) scale(1.2002,1)" class="si" font-size="39.4">T</text>
<line x1="1350.80" y1="716.00" x2="1364.03" y2="676.50" stroke="#000" stroke-width="2.0"/>
<text transform="translate(1365.53,704.60) scale(0.9009,1)" class="ss" font-size="38.5">eV</text>
<text transform="translate(557.67,115.30) scale(0.8869,1)" class="ss" font-size="38.5" style="fill:#000080">0.0</text>
<text transform="translate(619.52,115.30) scale(0.9548,1)" class="ss" font-size="38.5" style="fill:#000080">μm</text>
<text transform="translate(557.66,168.20) scale(0.8910,1)" class="ss" font-size="38.5" style="fill:#DC143C">0.02</text>
<text transform="translate(639.16,168.20) scale(0.9405,1)" class="ss" font-size="38.5" style="fill:#DC143C">μm</text>
<text transform="translate(557.65,221.10) scale(0.8946,1)" class="ss" font-size="38.5" style="fill:#008000">0.2</text>
<text transform="translate(619.52,221.10) scale(0.9548,1)" class="ss" font-size="38.5" style="fill:#008000">μm</text>
<text transform="translate(557.22,273.50) scale(0.9179,1)" class="ss" font-size="38.5" style="fill:#FFA500">2</text>
<text transform="translate(590.12,273.50) scale(0.9548,1)" class="ss" font-size="38.5" style="fill:#FFA500">μm</text>
<text transform="translate(1322.62,115.30) scale(0.9146,1)" class="ss" font-size="38.5" style="fill:#000080">0.0</text>
<text transform="translate(1384.50,115.30) scale(0.9650,1)" class="ss" font-size="38.5" style="fill:#000080">μm</text>
<text transform="translate(1323.00,167.90) scale(0.8780,1)" class="ss" font-size="38.5" style="fill:#FFA500">2</text>
<text transform="translate(1355.09,167.90) scale(0.9690,1)" class="ss" font-size="38.5" style="fill:#FFA500">μm</text>
<text transform="translate(1322.79,221.10) scale(0.8896,1)" class="ss" font-size="38.5" style="fill:#008080">150</text>
<text transform="translate(1392.89,221.10) scale(0.9690,1)" class="ss" font-size="38.5" style="fill:#008080">μm</text>
<text transform="translate(1322.25,273.50) scale(0.8860,1)" class="ss" font-size="38.5" style="fill:#FF0000">7500</text>
<text transform="translate(1411.79,273.50) scale(0.9690,1)" class="ss" font-size="38.5" style="fill:#FF0000">μm</text>
<text transform="translate(639.02,561.20) scale(0.8188,1)" class="ss" font-size="34.0">a</text>
<text transform="translate(1413.59,560.80) scale(0.9331,1)" class="ss" font-size="36.7">b</text>
<g transform="translate(31.6,580) rotate(-90)">
<text transform="translate(-1.54,0.00) scale(1.1099,1)" class="sf" font-size="38.5">d</text>
<text transform="translate(20.62,-14.00) scale(1.0810,1)" class="sf" font-size="27.0">2</text>
<text transform="translate(36.43,0.00) scale(1.1821,1)" class="si" font-size="38.5">N</text>
<text transform="translate(86.96,0.00) scale(1.1099,1)" class="sf" font-size="38.5">d</text>
<text transform="translate(104.60,0.00) scale(1.2708,1)" class="si" font-size="38.5">T</text>
<text transform="translate(152.82,0.00) scale(1.0639,1)" class="sf" font-size="38.5">d</text>
<text transform="translate(176.56,0.00) scale(1.0733,1)" class="si" font-size="38.5">z</text>
<text transform="translate(211.70,0.00) scale(1.0677,1)" class="si" font-size="38.5">Z</text>
<text transform="translate(239.21,-14.80) scale(1.0902,1)" class="sf" font-size="27.0">2</text>
<text transform="translate(236.24,9.50) scale(1.1034,1)" class="sf" font-size="27.0">eff</text>
<text transform="translate(317.34,0.00) scale(0.9894,1)" class="ss" font-size="38.5">(</text>
<text transform="translate(330.48,0.00) scale(1.1629,1)" class="ss" font-size="38.5">μ</text>
<text transform="translate(352.69,0.00) scale(0.9045,1)" class="ss" font-size="38.5">m</text>
<text transform="translate(382.89,0.00) scale(0.9002,1)" class="ss" font-size="38.5">·</text>
<text transform="translate(392.33,0.00) scale(0.8358,1)" class="ss" font-size="38.5">e</text>
<text transform="translate(411.14,0.00) scale(0.9274,1)" class="ss" font-size="38.5">V</text>
<text transform="translate(436.28,0.00) scale(0.9894,1)" class="ss" font-size="38.5">)</text>
<text transform="translate(475.88,-14.00) scale(0.8942,1)" class="sf" font-size="27.0">1</text>
<line x1="71.0" y1="9" x2="84.4" y2="-28.5" stroke="#000" stroke-width="1.9"/>
<line x1="138.8" y1="9" x2="152.2" y2="-28.5" stroke="#000" stroke-width="1.9"/>
<line x1="196.7" y1="9" x2="210.9" y2="-28.5" stroke="#000" stroke-width="1.9"/>
<line x1="299.9" y1="9" x2="311.8" y2="-28.5" stroke="#000" stroke-width="1.9"/>
<rect x="454.2" y="-21.2" width="17.7" height="1.7" fill="#000"/>
</g>
<g transform="translate(790.8,580) rotate(-90)">
<text transform="translate(-1.54,0.00) scale(1.1099,1)" class="sf" font-size="38.5">d</text>
<text transform="translate(20.62,-14.00) scale(1.0810,1)" class="sf" font-size="27.0">2</text>
<text transform="translate(36.43,0.00) scale(1.1821,1)" class="si" font-size="38.5">N</text>
<text transform="translate(86.96,0.00) scale(1.1099,1)" class="sf" font-size="38.5">d</text>
<text transform="translate(104.60,0.00) scale(1.2708,1)" class="si" font-size="38.5">T</text>
<text transform="translate(152.82,0.00) scale(1.0639,1)" class="sf" font-size="38.5">d</text>
<text transform="translate(176.56,0.00) scale(1.0733,1)" class="si" font-size="38.5">z</text>
<text transform="translate(211.70,0.00) scale(1.0677,1)" class="si" font-size="38.5">Z</text>
<text transform="translate(239.21,-14.80) scale(1.0902,1)" class="sf" font-size="27.0">2</text>
<text transform="translate(236.24,9.50) scale(1.1034,1)" class="sf" font-size="27.0">eff</text>
<text transform="translate(317.34,0.00) scale(0.9894,1)" class="ss" font-size="38.5">(</text>
<text transform="translate(330.48,0.00) scale(1.1629,1)" class="ss" font-size="38.5">μ</text>
<text transform="translate(352.69,0.00) scale(0.9045,1)" class="ss" font-size="38.5">m</text>
<text transform="translate(382.89,0.00) scale(0.9002,1)" class="ss" font-size="38.5">·</text>
<text transform="translate(392.33,0.00) scale(0.8358,1)" class="ss" font-size="38.5">e</text>
<text transform="translate(411.14,0.00) scale(0.9274,1)" class="ss" font-size="38.5">V</text>
<text transform="translate(436.28,0.00) scale(0.9894,1)" class="ss" font-size="38.5">)</text>
<text transform="translate(475.88,-14.00) scale(0.8942,1)" class="sf" font-size="27.0">1</text>
<line x1="71.0" y1="9" x2="84.4" y2="-28.5" stroke="#000" stroke-width="1.9"/>
<line x1="138.8" y1="9" x2="152.2" y2="-28.5" stroke="#000" stroke-width="1.9"/>
<line x1="196.7" y1="9" x2="210.9" y2="-28.5" stroke="#000" stroke-width="1.9"/>
<line x1="299.9" y1="9" x2="311.8" y2="-28.5" stroke="#000" stroke-width="1.9"/>
<rect x="454.2" y="-21.2" width="17.7" height="1.7" fill="#000"/>
</g>
</svg></body></html>
